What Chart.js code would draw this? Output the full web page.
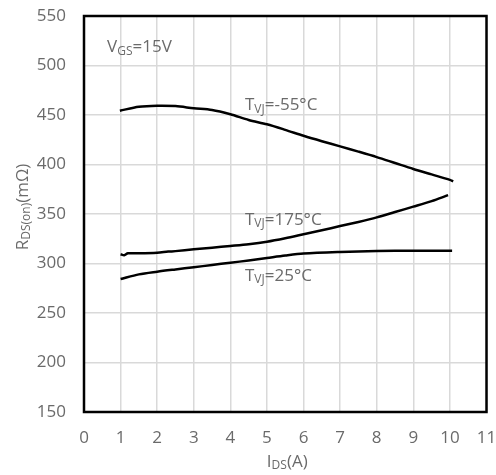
<!DOCTYPE html>
<html><head><meta charset="utf-8">
<script src="https://cdn.jsdelivr.net/npm/chart.js@4"></script>
<style>html,body{margin:0;padding:0;background:#fff}</style>
</head><body>
<canvas id="c" width="496" height="475"></canvas>
<script>
// ---- data ----
const xMin = 0, xMax = 11, xStep = 1;
const yMin = 150, yMax = 550, yStep = 50;

const tm55X = [0.98, 1.5, 2, 2.5, 3, 3.5, 4, 4.5, 5, 5.5, 6, 6.5, 7, 7.5, 8, 8.5, 9, 9.5, 10, 10.09];
const tm55Y = [454.3, 458.4, 459.4, 459, 456.8, 455, 450.7, 445, 440.6, 435, 429, 423.5, 418.3, 413, 407.5, 401.5, 395.5, 390, 384.5, 383];

const t175X = [1, 1.1, 1.2, 1.5, 2, 2.3, 2.5, 3, 3.5, 4, 4.5, 5, 5.5, 6, 6.5, 7, 7.5, 8, 8.5, 9, 9.5, 9.95];
const t175Y = [309.3, 308.3, 310.3, 310.3, 310.9, 312, 312.5, 314.3, 316, 317.7, 319.5, 322, 325.5, 329.5, 333.5, 337.8, 342, 346.6, 352, 357.4, 363, 369];

const t25X = [1, 1.5, 2, 2.5, 3, 3.5, 4, 4.5, 5, 5.5, 6, 7, 8, 9, 10, 10.06];
const t25Y = [284.3, 289, 291.7, 294, 296.2, 298.5, 300.8, 303, 305.5, 308, 310, 311.6, 312.6, 312.9, 313, 313];

const xTitle = [['I', false], ['DS', true], ['(A)', false]];
const yTitle = [['R', false], ['DS(on)', true], ['(mΩ)', false]];
const noteVgs = [['V', false], ['GS', true], ['=15V', false]];
const note55 = [['T', false], ['VJ', true], ['=-55°C', false]];
const note175 = [['T', false], ['VJ', true], ['=175°C', false]];
const note25 = [['T', false], ['VJ', true], ['=25°C', false]];

const FONT = '"Open Sans", "Noto Sans", sans-serif';
const TXT = '#6a6a6a';

function pts(xs, ys) { return xs.map((v, i) => ({x: v, y: ys[i]})); }

function measureParts(ctx, parts, size, subSize) {
  let w = 0;
  for (const [t, s] of parts) {
    ctx.font = (s ? subSize : size) + 'px ' + FONT;
    w += ctx.measureText(t).width;
  }
  return w;
}
function drawParts(ctx, parts, x, y, size, subSize, subOff) {
  ctx.textBaseline = 'middle';
  ctx.textAlign = 'left';
  let cx = x;
  for (const [t, s] of parts) {
    ctx.font = (s ? subSize : size) + 'px ' + FONT;
    ctx.fillText(t, cx, s ? y + subOff : y);
    cx += ctx.measureText(t).width;
  }
}

const annot = {
  id: 'annot',
  afterDraw(chart) {
    const {ctx, chartArea: a, scales: {x, y}} = chart;
    ctx.save();
    ctx.strokeStyle = '#000';
    ctx.lineWidth = 2.5;
    ctx.strokeRect(a.left, a.top, a.right - a.left, a.bottom - a.top);
    ctx.fillStyle = TXT;
    drawParts(ctx, noteVgs, x.getPixelForValue(0.63), y.getPixelForValue(518.5), 17, 12, 4);
    drawParts(ctx, note55, x.getPixelForValue(4.4), y.getPixelForValue(460), 17, 12, 4);
    drawParts(ctx, note175, x.getPixelForValue(4.4), y.getPixelForValue(344), 17, 12, 4);
    drawParts(ctx, note25, x.getPixelForValue(4.4), y.getPixelForValue(287.5), 17, 12, 4);
    const wx = measureParts(ctx, xTitle, 17, 12);
    drawParts(ctx, xTitle, (a.left + a.right) / 2 - wx / 2 + 2, 462, 17, 12, 4);
    const wy = measureParts(ctx, yTitle, 17, 12);
    ctx.translate(23, 207);
    ctx.rotate(-Math.PI / 2);
    drawParts(ctx, yTitle, -wy / 2, 0, 17, 12, 4);
    ctx.restore();
  }
};

const lineStyle = {borderColor: '#000', borderWidth: 2.5, pointRadius: 0, showLine: true, fill: false, tension: 0.3};

new Chart(document.getElementById('c'), {
  type: 'scatter',
  data: {
    datasets: [
      Object.assign({label: 'TVJ=-55°C', data: pts(tm55X, tm55Y)}, lineStyle),
      Object.assign({label: 'TVJ=175°C', data: pts(t175X, t175Y)}, lineStyle),
      Object.assign({label: 'TVJ=25°C', data: pts(t25X, t25Y)}, lineStyle)
    ]
  },
  options: {
    responsive: false,
    animation: false,
    layout: {padding: {top: 16, right: 9.5, left: 0, bottom: 0}},
    plugins: {legend: {display: false}, tooltip: {enabled: false}},
    scales: {
      x: {
        type: 'linear', min: xMin, max: xMax,
        afterFit(s) { s.height = 63; s.paddingLeft = 0; s.paddingRight = 0; },
        ticks: {stepSize: xStep, color: TXT, font: {family: FONT, size: 17}, padding: 16, maxRotation: 0},
        grid: {color: '#d9d9d9', lineWidth: 1.5, drawTicks: false},
        border: {display: false}
      },
      y: {
        type: 'linear', min: yMin, max: yMax,
        afterFit(s) { s.width = 84; s.paddingTop = 0; s.paddingBottom = 0; },
        ticks: {stepSize: yStep, color: TXT, font: {family: FONT, size: 17}, padding: 18},
        grid: {color: '#d9d9d9', lineWidth: 1.5, drawTicks: false},
        border: {display: false}
      }
    }
  },
  plugins: [annot]
});
</script>
</body></html>
